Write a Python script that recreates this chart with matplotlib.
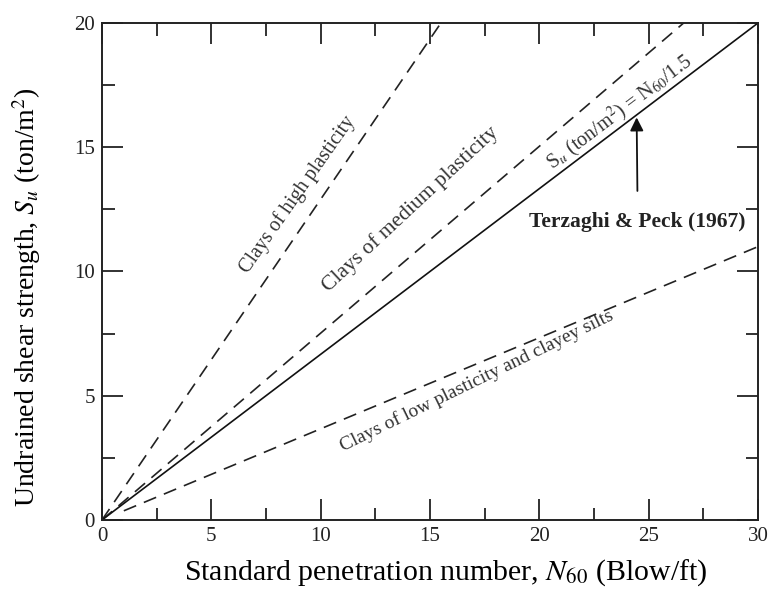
import matplotlib
matplotlib.use("Agg")
import matplotlib.pyplot as plt
from matplotlib.ticker import MultipleLocator

plt.rcParams["font.family"] = ["Liberation Serif", "DejaVu Serif"]
plt.rcParams["mathtext.fontset"] = "stix"

# Linhas (N60, Su)
alta_n = [0, 15.5]
alta_s = [0, 20]
media_n = [0, 26.6]
media_s = [0, 20]
terzaghi_n = [0, 30]
terzaghi_s = [0, 20]
baixa_n = [1.0, 30]
baixa_s = [0.37, 11.0]

fig = plt.figure(figsize=(7.69, 5.94), dpi=100)
ax = fig.add_axes([0.1326, 0.1246, 0.8531, 0.8367])

tracos = (0, (8, 5))
ax.plot(alta_n, alta_s, color="#222222", lw=1.2, linestyle=tracos)
ax.plot(media_n, media_s, color="#222222", lw=1.2, linestyle=tracos)
ax.plot(terzaghi_n, terzaghi_s, color="#111111", lw=1.2)
ax.plot(baixa_n, baixa_s, color="#222222", lw=1.2, linestyle=tracos)

ax.set_xlim(0, 30)
ax.set_ylim(0, 20)
ax.xaxis.set_major_locator(MultipleLocator(5))
ax.xaxis.set_minor_locator(MultipleLocator(2.5))
ax.yaxis.set_major_locator(MultipleLocator(5))
ax.yaxis.set_minor_locator(MultipleLocator(2.5))
ax.tick_params(which="both", direction="in", top=True, right=True,
               labelsize=15, width=1.3, pad=5, colors="#222222")
ax.tick_params(which="major", length=15)
ax.tick_params(which="minor", length=9)
for lado in ax.spines.values():
    lado.set_linewidth(1.4)
    lado.set_color("#222222")

ax.text(8.96, 13.1, "Clays of high plasticity", rotation=55,
        ha="center", va="center", fontsize=14.5, color="#333333")
ax.text(14.1, 12.5, "Clays of medium plasticity", rotation=43,
        ha="center", va="center", fontsize=15.5, color="#333333")
ax.text(23.65, 16.4, r"S$_u$ (ton/m$^2$) = N$_{60}$/1.5", rotation=37,
        ha="center", va="center", fontsize=14.5, color="#333333")
ax.text(17.15, 5.6, "Clays of low plasticity and clayey silts", rotation=26,
        ha="center", va="center", fontsize=14, color="#333333")
ax.annotate("Terzaghi & Peck (1967)", xy=(24.45, 16.2), xytext=(24.5, 12.0),
            ha="center", va="center", fontsize=15.5, fontweight="bold",
            color="#222222",
            arrowprops=dict(arrowstyle="-|>", color="#111111", lw=1.3,
                            shrinkA=13, shrinkB=0, mutation_scale=20))

ax.set_xlabel(r"Standard penetration number, $N_{60}$ (Blow/ft)", fontsize=21.5)
ax.set_ylabel(r"Undrained shear strength, $S_u$ (ton/m$^2$)", fontsize=20)
ax.xaxis.set_label_coords(0.524, -0.075)
ax.yaxis.set_label_coords(-0.09, 0.449)

plt.savefig("out.png", dpi=100)
